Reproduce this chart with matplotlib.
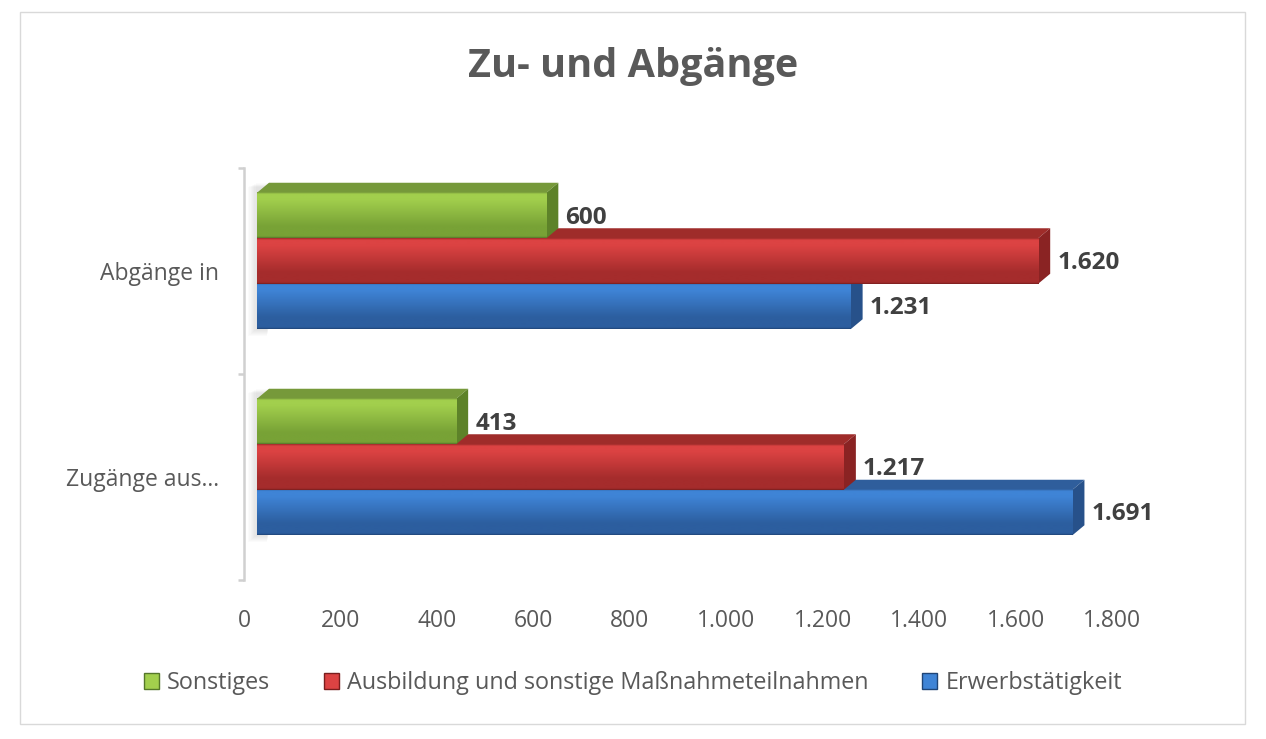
import numpy as np
import matplotlib
matplotlib.use("Agg")
import matplotlib.pyplot as plt
from matplotlib.colors import LinearSegmentedColormap
from matplotlib.patches import Polygon, Rectangle

# data
categories = ["Zugänge aus...", "Abgänge in"]
series = ["Erwerbstätigkeit", "Ausbildung und sonstige Maßnahmeteilnahmen", "Sonstiges"]
erwerb = [1691, 1231]
ausbildung = [1217, 1620]
sonstiges = [413, 600]
x_ticks = [0, 200, 400, 600, 800, 1000, 1200, 1400, 1600, 1800]

# look: (front top, front bottom, top face, side face, edge)
styles = [
    ("#3f84d6", "#2c5e9f", "#2f5e9c", "#27518a", "#1f4577"),
    ("#dc4343", "#a52c2c", "#9f2c2a", "#8a2323", "#7a1e1e"),
    ("#a2cf4d", "#78a236", "#76993a", "#5d8229", "#55772a"),
]

W, H = 1266, 739
plt.rcParams["font.family"] = ["Open Sans", "DejaVu Sans"]
GRAY = "#595959"

fig = plt.figure(figsize=(W / 100, H / 100), dpi=100)
fig.patches.append(Rectangle((20 / W, 1 - 724 / H), 1225 / W, 712 / H,
                             transform=fig.transFigure, fill=False,
                             edgecolor="#d9d9d9", linewidth=1.0))

ax = fig.add_axes([244 / W, (H - 580) / H, 868 / W, 412 / H])
xmax = x_ticks[-1]
px_x = 868 / xmax      # pixels per unit
px_y = 412 / 2.0       # pixels per category

FX, FY = 13 / px_x, 10 / px_y    # front face offset
DX, DY = 12 / px_x, 10 / px_y    # bar depth
h = 45.5 / px_y

values = [erwerb, ausbildung, sonstiges]
grad = np.linspace(0, 1, 128).reshape(-1, 1)
z = 2
for c in range(len(categories)):
    # soft shadow on left edge of the stack
    y_bot = c - 1.5 * h + FY
    y_top = c + 1.5 * h + FY + DY
    for k in range(1, 8):
        ax.add_patch(Rectangle((FX - k * 1.3 / px_x, y_bot - k * 1.0 / px_y),
                               (12 + k) / px_x, (y_top - y_bot) + k * 0.4 / px_y,
                               facecolor="#808080", alpha=0.03, linewidth=0, zorder=1))
    for i, vals in enumerate(values):
        v = vals[c]
        top_c, bot_c, topface, side, edge = styles[i]
        yc = c + (i - 1) * h + FY
        x0, x1 = FX, FX + v
        y0, y1 = yc - h / 2, yc + h / 2
        ax.add_patch(Polygon([(x0, y1), (x1, y1), (x1 + DX, y1 + DY), (x0 + DX, y1 + DY)],
                             closed=True, facecolor=topface, edgecolor="none", zorder=z))
        ax.add_patch(Polygon([(x1, y0), (x1 + DX, y0 + DY), (x1 + DX, y1 + DY), (x1, y1)],
                             closed=True, facecolor=side, edgecolor="none", zorder=z))
        cmap = LinearSegmentedColormap.from_list(
            "f%d" % i, [(0, edge), (0.035, bot_c), (0.25, bot_c), (0.85, top_c),
                        (0.96, top_c), (1, topface)])
        ax.imshow(grad, extent=(x0, x1, y0, y1), origin="lower", aspect="auto",
                  cmap=cmap, interpolation="bilinear", zorder=z + 0.5)
        ax.text(x1 + DX + 7 / px_x, yc - 2 / px_y, f"{v:,}".replace(",", "."),
                ha="left", va="center", fontsize=17.5, fontweight="bold",
                color="#404040", zorder=10)
        z += 1

ax.set_xlim(0, xmax)
ax.set_ylim(-0.5, len(categories) - 0.5)
for s in ("top", "right", "bottom"):
    ax.spines[s].set_visible(False)
ax.spines["left"].set_color("#d0d0d0")
ax.spines["left"].set_linewidth(1.8)

ax.set_xticks(x_ticks)
ax.set_xticklabels([f"{t:,}".replace(",", ".") for t in x_ticks])
ax.tick_params(axis="x", length=0, pad=21, labelsize=16.5, labelcolor=GRAY)
ax.set_yticks(range(len(categories)))
ax.set_yticklabels(categories)
ax.tick_params(axis="y", which="major", length=0, pad=18, labelsize=16.5, labelcolor=GRAY)
ax.set_yticks([-0.5, 0.5, 1.5], minor=True)
ax.tick_params(axis="y", which="minor", length=4.5, width=1.8, color="#d0d0d0")
ax.patch.set_visible(False)

fig.text(0.5, 1 - 67 / H, "Zu- und Abgänge", ha="center", va="center",
         fontsize=28.5, fontweight="bold", color=GRAY)

handles = [Rectangle((0, 0), 1, 1, facecolor=styles[i][0], edgecolor=styles[i][4], linewidth=1.0)
           for i in (2, 1, 0)]
fig.legend(handles, [series[2], series[1], series[0]], loc="center",
           bbox_to_anchor=(0.5, 1 - 683 / H), ncol=3, frameon=False,
           fontsize=16.8, labelcolor=GRAY, handlelength=0.65, handleheight=0.65,
           handletextpad=0.35, columnspacing=2.3)

fig.savefig("out.png", dpi=100)
